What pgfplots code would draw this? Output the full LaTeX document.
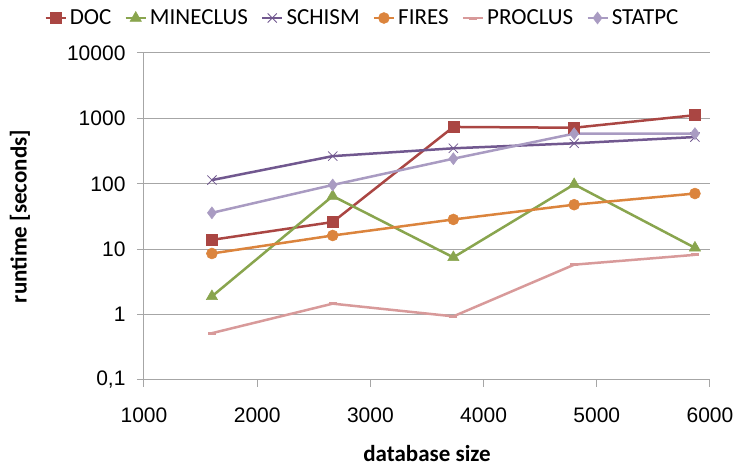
\documentclass[border=0pt]{standalone}
\usepackage{fontspec}
\setmainfont{Carlito}
\newfontfamily\tickfont{Liberation Sans}
\usepackage{pgfplots}
\pgfplotsset{compat=1.18}
\definecolor{cDOC}{HTML}{AA4643}
\definecolor{cMIN}{HTML}{89A54E}
\definecolor{cSCH}{HTML}{71588F}
\definecolor{cFIR}{HTML}{DB843D}
\definecolor{cPRO}{HTML}{D89A9A}
\definecolor{cSTA}{HTML}{A99BC2}
\definecolor{gridc}{HTML}{A6A6A6}
\begin{document}
\begin{tikzpicture}[x=1pt,y=1pt]
\path[use as bounding box] (0,0) rectangle (740,466);
\begin{axis}[
  at={(144pt,86pt)}, anchor=south west,
  width=566pt, height=327pt, scale only axis,
  xmin=1000, xmax=6000,
  ymode=log, ymin=0.1, ymax=10000,
  xtick={1000,2000,3000,4000,5000,6000},
  xticklabels={1000,2000,3000,4000,5000,6000},
  ytick={0.1,1,10,100,1000,10000},
  yticklabels={{0,1},1,10,100,1000,10000},
  yminorticks=false,
  axis lines*=left,
  axis line style={gridc, line width=1pt},
  ymajorgrids, major grid style={gridc, line width=1pt},
  tick style={gridc, line width=1pt},
  major tick length=7pt, tick align=outside,
  tick label style={font=\tickfont\fontsize{21}{25}\selectfont, black},
  xticklabel style={yshift=-17pt},
  yticklabel style={xshift=-8pt},
  xlabel={database size},
  ylabel={runtime [seconds]},
  label style={font=\bfseries\fontsize{23}{27}\selectfont},
  xlabel style={at={(axis description cs:0.5,-0.225)}, anchor=center},
  ylabel style={at={(axis description cs:-0.219,0.5)}, anchor=center},
  legend columns=6,
  legend style={at={(0.385,1.107)}, anchor=center, draw=none, fill=none,
    font=\fontsize{23}{27}\selectfont,
    nodes={inner sep=1pt},
    /tikz/every odd column/.append style={column sep=2pt},
    /tikz/every even column/.append style={column sep=12pt}},
  legend image code/.code={\draw[mark repeat=2,mark phase=2] plot coordinates {(0pt,0pt) (10pt,0pt) (20pt,0pt)};},
  every axis plot/.append style={line width=2.5pt},
]
\addplot[cDOC, mark=square*, mark size=5.5pt, mark options={solid, fill=cDOC, line width=0.5pt}]
  coordinates {(1600,13.9) (2667,26) (3733,740) (4800,720) (5867,1120)};
\addlegendentry{DOC}
\addplot[cMIN, mark=triangle*, mark size=6.5pt, mark options={solid, fill=cMIN, line width=0.5pt}]
  coordinates {(1600,1.9) (2667,65) (3733,7.5) (4800,98) (5867,10.5)};
\addlegendentry{MINECLUS}
\addplot[cSCH, mark=x, mark size=6.5pt, mark options={solid, line width=0.8pt}]
  coordinates {(1600,114) (2667,265) (3733,349) (4800,416) (5867,519)};
\addlegendentry{SCHISM}
\addplot[cFIR, mark=*, mark size=5.5pt, mark options={solid, fill=cFIR, line width=0.5pt}]
  coordinates {(1600,8.6) (2667,16.2) (3733,28.5) (4800,47.9) (5867,71)};
\addlegendentry{FIRES}
\addplot[cPRO, mark=-, mark size=4pt, mark options={solid, line width=3pt}]
  coordinates {(1600,0.52) (2667,1.47) (3733,0.94) (4800,5.8) (5867,8.2)};
\addlegendentry{PROCLUS}
\addplot[cSTA, mark=diamond*, mark size=6pt, mark options={solid, fill=cSTA, line width=0.5pt}]
  coordinates {(1600,36) (2667,96) (3733,242) (4800,585) (5867,585)};
\addlegendentry{STATPC}
\end{axis}
\end{tikzpicture}
\end{document}
